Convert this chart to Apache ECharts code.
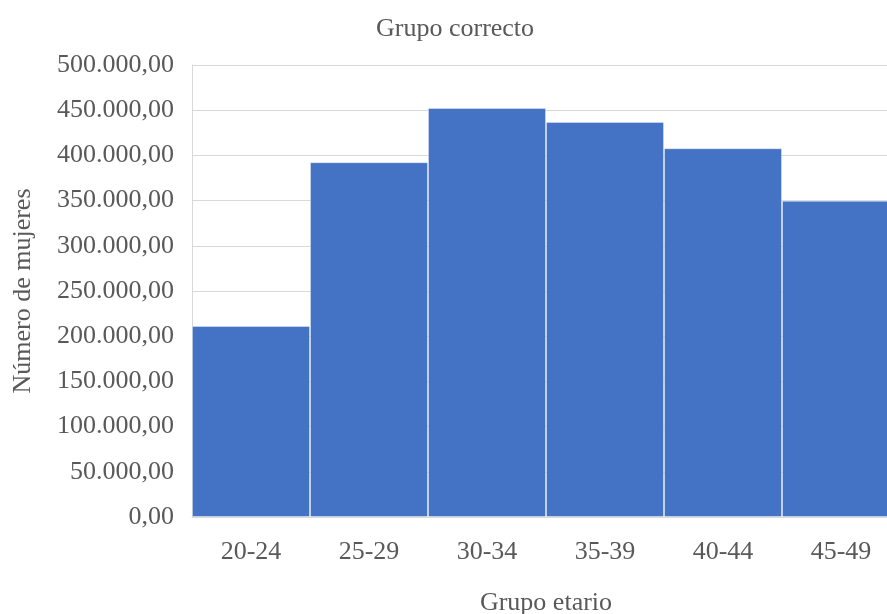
<!DOCTYPE html>
<html>
<head>
<meta charset="utf-8">
<script src="https://cdn.jsdelivr.net/npm/echarts@6/dist/echarts.min.js"></script>
<style>
  html, body { margin: 0; padding: 0; background: #fff; }
  #chart { width: 887px; height: 614px; }
</style>
</head>
<body>
<div id="chart"></div>
<script>
// Age groups and number of women per group
const categories = ['20-24', '25-29', '30-34', '35-39', '40-44', '45-49'];
const women = [211300, 392400, 452400, 437000, 407900, 349900];

// Value axis range
const yMin = 0;
const yMax = 500000;
const yStep = 50000;

const FONT = '"Liberation Serif", "Times New Roman", serif';
const TEXT = '#595959';
const GRID_LINE = '#d9d9d9';

// Spanish number style: 450.000,00
function fmt(v) {
  const parts = Number(v).toFixed(2).split('.');
  return parts[0].replace(/\B(?=(\d{3})+(?!\d))/g, '.') + ',' + parts[1];
}

const chart = echarts.init(document.getElementById('chart'));
chart.setOption({
  animation: false,
  backgroundColor: '#ffffff',
  textStyle: { fontFamily: FONT },
  title: {
    text: 'Grupo correcto',
    left: 371,
    top: 11,
    textStyle: { fontFamily: FONT, fontSize: 26, fontWeight: 'normal', color: TEXT }
  },
  // The plot runs past the right edge of the page, so the last bar is cut off
  grid: { left: 192, top: 65, width: 708, height: 452, outerBoundsMode: 'none' },
  xAxis: {
    type: 'category',
    data: categories,
    name: 'Grupo etario',
    nameLocation: 'middle',
    nameGap: 73,
    nameTextStyle: { fontFamily: FONT, fontSize: 26, color: TEXT },
    axisLine: { show: true, lineStyle: { color: GRID_LINE, width: 1 } },
    axisTick: { show: false },
    axisLabel: { fontFamily: FONT, fontSize: 26, color: TEXT, margin: 22 }
  },
  yAxis: {
    type: 'value',
    min: yMin,
    max: yMax,
    interval: yStep,
    name: 'Número de mujeres',
    nameLocation: 'middle',
    nameGap: 156,
    nameTextStyle: { fontFamily: FONT, fontSize: 26, color: TEXT },
    axisLine: { show: true, lineStyle: { color: GRID_LINE, width: 1 } },
    axisTick: { show: false },
    axisLabel: { fontFamily: FONT, fontSize: 26, color: TEXT, margin: 18, formatter: fmt },
    splitLine: { show: true, lineStyle: { color: GRID_LINE, width: 1 } }
  },
  series: [{
    type: 'bar',
    data: women,
    barCategoryGap: 0,
    itemStyle: {
      color: '#4472C4',
      borderColor: 'rgba(255,255,255,0.35)',
      borderWidth: 1
    }
  }]
});
</script>
</body>
</html>
